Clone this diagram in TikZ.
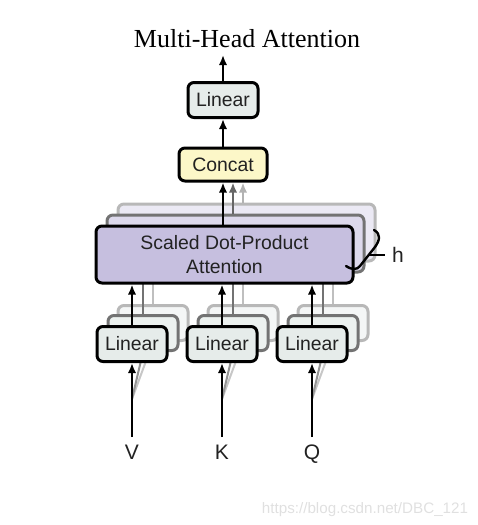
\documentclass[tikz,border=0pt]{standalone}
\usepackage{fontspec}
\setmainfont{Liberation Serif}
\setsansfont{Liberation Sans}
\usetikzlibrary{arrows.meta, positioning}
\definecolor{lineal}{HTML}{E6ECEA}
\definecolor{amarillo}{HTML}{FCF7C8}
\definecolor{lila}{HTML}{C6BFDF}
\definecolor{texto}{HTML}{222222}

\begin{document}
\begin{tikzpicture}[x=0.5pt, y=-0.5pt, font=\sffamily,
  caja/.style={draw=black, line width=1.5pt, rounded corners=3pt, inner sep=0pt,
    align=center, text=texto, font=\sffamily\fontsize{9.7}{11.8}\selectfont},
  caja2/.style={caja, draw=black!55},
  caja3/.style={caja, draw=black!28},
  flecha/.style={-{Latex[length=5pt, width=4.2pt]}, line width=1.3pt},
  linbox/.style={minimum width=35pt, minimum height=17.5pt},
  sdpabox/.style={minimum width=128.5pt, minimum height=28.5pt}]

  \useasboundingbox (0,0) rectangle (477,525);

  % --- Titulo ---
  \node[font=\rmfamily\fontsize{13}{15}\selectfont] (titulo) at (247,39) {Multi-Head Attention};

  % --- Linear de entrada (h copias) ---
  \foreach \x/\lbl/\n in {132/V/v, 222/K/k, 312/Q/q} {
    \node[caja3, linbox, fill=lineal!45!white] (linC\n) at (\x+21,323) {};
    \node[caja2, linbox, fill=lineal!75!white] (linB\n) at (\x+11,333) {};
    \coordinate (ent\n) at (\x,437);
    \node[font=\sffamily\fontsize{10.5}{12}\selectfont, text=texto, anchor=base] (lbl\n) at (\x,459) {\lbl};
    % entradas de las copias (casi ocultas)
    \draw[flecha, black!22, line width=1pt] ([yshift=19pt]ent\n) -- (linC\n.south);
    \draw[flecha, black!42, line width=1pt] ([yshift=19pt]ent\n) -- (linB\n.south);
    \node[caja, linbox, fill=lineal] (lin\n) at (\x,344) {Linear};
    \draw[flecha] (ent\n) -- (lin\n.south);
  }

  % --- Scaled Dot-Product Attention (h copias) ---
  \node[caja3, sdpabox, fill=lila!35!white] (sdpaC) at (246.5,232.5) {};
  \node[caja2, sdpabox, fill=lila!60!white] (sdpaB) at (235.5,243.5) {};
  \foreach \n in {v, k, q} {
    \draw[flecha, black!25] (linC\n.north) -- (linC\n.north |- sdpaC.south);
    \draw[flecha, black!55] (linB\n.north) -- (linB\n.north |- sdpaB.south);
  }
  \node[caja, sdpabox, fill=lila] (sdpa) at (224.5,254.5) {Scaled Dot-Product\\Attention};
  \foreach \n in {v, k, q}
    \draw[flecha] (lin\n.north) -- (lin\n.north |- sdpa.south);

  % --- llave h ---
  \draw[line width=1.2pt, line cap=round]
    (374,230) .. controls (381,234) and (380,240) .. (375,247) -- (360,266)
    .. controls (357,270) and (352,270) .. (346,266);
  \coordinate (llave) at (369,255);
  \node[font=\sffamily\fontsize{10.5}{12}\selectfont, text=texto] (h) at (398,255) {h};
  \draw[line width=0.8pt] (llave) -- (h.west);

  % --- Concat y Linear de salida ---
  \node[caja, minimum width=44pt, minimum height=16.5pt, fill=amarillo] (concat) at (223,164.5) {Concat};
  \node[caja, linbox, fill=lineal] (linout) at (223,100) {Linear};
  \coordinate (salida) at (223,55);

  \draw[flecha, black!30] ([xshift=10pt]concat.south |- sdpaC.north) -- ([xshift=10pt]concat.south);
  \draw[flecha, black!60] ([xshift=5pt]concat.south |- sdpaB.north) -- ([xshift=5pt]concat.south);
  \draw[flecha] (concat.south |- sdpa.north) -- (concat.south);
  \draw[flecha] (concat) -- (linout);
  \draw[flecha] (linout) -- (salida);

  % --- marca de agua ---
  \node[font=\sffamily\fontsize{7.6}{9}\selectfont, text=black!12] (marca) at (365,510) {https://blog.csdn.net/DBC\_121};

\end{tikzpicture}
\end{document}
